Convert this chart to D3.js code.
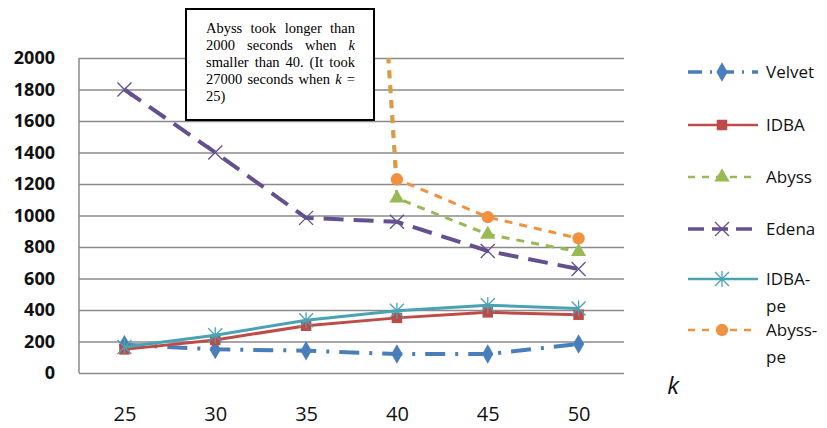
<!DOCTYPE html>
<html>
<head>
<meta charset="utf-8">
<script src="https://cdn.jsdelivr.net/npm/d3@7"></script>
<style>
  body { margin: 0; background: #fff; }
  svg { display: block; }
</style>
</head>
<body>
<div id="chart"></div>
<script>
// k values on the x axis
var ks = [25, 30, 35, 40, 45, 50];
var yTicks = [0, 200, 400, 600, 800, 1000, 1200, 1400, 1600, 1800, 2000];

// running time (seconds) per assembler
var velvet = [180, 150, 142, 120, 120, 184];
var idba = [150, 210, 300, 350, 385, 370];
var abyss = [null, null, 10000, 1110, 880, 770];
var edena = [1800, 1400, 985, 960, 775, 660];
var idbaPe = [165, 240, 335, 395, 430, 410];
var abyssPe = [null, null, 10000, 1230, 990, 855];

var noteLines = [
  "Abyss took longer than",
  "2000 seconds when k",
  "smaller than 40. (It took",
  "27000 seconds when k =",
  "25)"
];

var width = 827, height = 428;
var margin = { top: 58, right: 203, bottom: 55, left: 79 };
var plotW = width - margin.left - margin.right;
var plotH = height - margin.top - margin.bottom;

var series = [
  { name: "Velvet", values: velvet, color: "#4a7ebb", width: 4, dash: "20,10,3,10", marker: "diamond", legendY: 72 },
  { name: "IDBA", values: idba, color: "#be4b48", width: 3, dash: null, marker: "square", legendY: 125 },
  { name: "Abyss", values: abyss, color: "#98b954", width: 3, dash: "8,7", marker: "triangle", legendY: 177 },
  { name: "Edena", values: edena, color: "#65508f", width: 4, dash: "20,10", marker: "x", legendY: 229 },
  { name: "IDBA-\npe", values: idbaPe, color: "#4aa3b5", width: 3, dash: null, marker: "asterisk", legendY: 279 },
  { name: "Abyss-\npe", values: abyssPe, color: "#f0913f", width: 3, dash: "8,7", marker: "circle", legendY: 330 }
];

var svg = d3.select("#chart").append("svg")
    .attr("width", width)
    .attr("height", height);

var x = d3.scalePoint().domain(ks).range([0, plotW]).padding(0.5);
var y = d3.scaleLinear().domain([0, 2000]).range([plotH, 0]);

var g = svg.append("g")
    .attr("transform", "translate(" + margin.left + "," + margin.top + ")");

// grid + y labels
var yAxis = g.append("g")
    .call(d3.axisLeft(y).tickValues(yTicks).tickFormat(d3.format("d")).tickSize(-plotW).tickPadding(24));
yAxis.select(".domain").remove();
yAxis.selectAll(".tick line").attr("stroke", "#8a8a8a").attr("stroke-width", 1.5);
yAxis.selectAll(".tick text")
    .attr("fill", "#111")
    .style("font-family", "'Open Sans', sans-serif")
    .style("font-weight", "bold")
    .style("font-size", "18px");

g.append("line")
    .attr("x1", 0).attr("x2", 0).attr("y1", 0).attr("y2", plotH)
    .attr("stroke", "#8a8a8a").attr("stroke-width", 1.5);

// x labels
var xAxis = g.append("g")
    .attr("transform", "translate(0," + plotH + ")")
    .call(d3.axisBottom(x).tickSize(0).tickPadding(34));
xAxis.select(".domain").remove();
xAxis.selectAll(".tick text")
    .attr("fill", "#111")
    .style("font-family", "'Open Sans', sans-serif")
    .style("font-size", "20px");

svg.append("defs").append("clipPath").attr("id", "clip")
  .append("rect").attr("width", plotW).attr("height", plotH);

var line = d3.line()
    .defined(function (d) { return d != null; })
    .x(function (d, i) { return x(ks[i]); })
    .y(function (d) { return y(d); });

function drawMarker(sel, type, color) {
  if (type === "x" || type === "asterisk") {
    var r = 7;
    var p = "M" + (-r) + "," + (-r) + "L" + r + "," + r + "M" + (-r) + "," + r + "L" + r + "," + (-r);
    if (type === "asterisk") p += "M0," + (-r - 1) + "L0," + (r + 1);
    sel.append("path").attr("d", p).attr("fill", "none")
      .attr("stroke", color).attr("stroke-width", 1.3);
  } else {
    var sym = { diamond: d3.symbolDiamond, square: d3.symbolSquare, triangle: d3.symbolTriangle, circle: d3.symbolCircle }[type];
    var size = { diamond: 110, square: 110, triangle: 100, circle: 120 }[type];
    sel.append("path").attr("d", d3.symbol().type(sym).size(size)()).attr("fill", color);
  }
}

var plot = g.append("g").attr("clip-path", "url(#clip)");

series.forEach(function (s) {
  plot.append("path")
    .datum(s.values)
    .attr("d", line)
    .attr("fill", "none")
    .attr("stroke", s.color)
    .attr("stroke-width", s.width)
    .attr("stroke-dasharray", s.dash);

  s.values.forEach(function (v, i) {
    if (v == null || v > 2000) return;
    var m = plot.append("g").attr("transform", "translate(" + x(ks[i]) + "," + y(v) + ")");
    drawMarker(m, s.marker, s.color);
  });
});

// legend
var legend = svg.append("g");
series.forEach(function (s) {
  var lg = legend.append("g").attr("transform", "translate(0," + s.legendY + ")");
  lg.append("line")
    .attr("x1", 688).attr("x2", 758)
    .attr("stroke", s.color)
    .attr("stroke-width", s.width - 0.5)
    .attr("stroke-dasharray", s.dash ? (s.name === "Velvet" ? "14,8,2,8" : (s.name === "Edena" ? "16,8" : "7,7")) : null);
  var m = lg.append("g").attr("transform", "translate(722,0)");
  drawMarker(m, s.marker, s.color);
  var t = lg.append("text")
    .attr("x", 766)
    .attr("y", 6)
    .attr("fill", "#111")
    .style("font-family", "'Open Sans', sans-serif")
    .style("font-size", "17px");
  s.name.split("\n").forEach(function (part, j) {
    t.append("tspan").attr("x", 766).attr("dy", j ? 27 : 0).text(part);
  });
});

svg.append("text")
    .attr("x", 673).attr("y", 394)
    .attr("text-anchor", "middle")
    .attr("fill", "#111")
    .style("font-family", "'Open Sans', sans-serif")
    .style("font-style", "italic")
    .style("font-size", "24px")
    .text("k");

// annotation box
var box = svg.append("g");
box.append("rect")
    .attr("x", 186).attr("y", 9)
    .attr("width", 188).attr("height", 111)
    .attr("fill", "#fff")
    .attr("stroke", "#000")
    .attr("stroke-width", 2);

var left = 206, right = 355;
noteLines.forEach(function (ln, i) {
  var words = ln.split(" ");
  var ty = 33 + i * 17;
  var nodes = words.map(function (w) {
    return box.append("text")
      .attr("y", ty)
      .attr("fill", "#000")
      .style("font-family", "'Liberation Serif', serif")
      .style("font-size", "14.5px")
      .style("font-style", w === "k" ? "italic" : null)
      .text(w);
  });
  var widths = nodes.map(function (n) { return n.node().getComputedTextLength(); });
  var total = d3.sum(widths);
  var last = i === noteLines.length - 1;
  var gap = (!last && words.length > 1) ? (right - left - total) / (words.length - 1) : 3.5;
  var cx = left;
  nodes.forEach(function (n, j) {
    n.attr("x", cx);
    cx += widths[j] + gap;
  });
});
</script>
</body>
</html>
